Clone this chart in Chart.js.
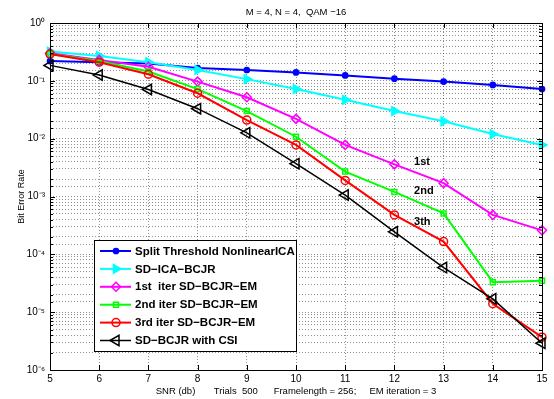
<!DOCTYPE html>
<html>
<head>
<meta charset="utf-8">
<script src="https://cdn.jsdelivr.net/npm/chart.js@4.4.1/dist/chart.umd.min.js"></script>
<style>
  html, body { margin: 0; padding: 0; background: #fff; }
  #wrap { width: 554px; height: 399px; }
</style>
</head>
<body>
<div id="wrap"><canvas id="ber" width="554" height="399"></canvas></div>
<script>
// SNR points (dB)
const snr = [5, 6, 7, 8, 9, 10, 11, 12, 13, 14, 15];

// bit error rate per curve
const splitThreshold = [0.22, 0.21, 0.20, 0.166, 0.154, 0.14, 0.124, 0.109, 0.097, 0.085, 0.072];
const sdIcaBcjr      = [0.32, 0.27, 0.21, 0.154, 0.107, 0.072, 0.047, 0.030, 0.020, 0.012, 0.0078];
const iter1          = [0.30, 0.23, 0.175, 0.097, 0.052, 0.022, 0.0078, 0.0036, 0.0017, 0.00048, 0.00026];
const iter2          = [0.29, 0.22, 0.145, 0.072, 0.030, 0.0108, 0.0027, 0.0012, 0.00051, 0.000033, 0.000035];
const iter3          = [0.29, 0.21, 0.13, 0.061, 0.021, 0.0078, 0.0019, 0.00048, 0.000166, 0.000014, 0.0000037];
const withCsi        = [0.185, 0.126, 0.071, 0.033, 0.0126, 0.0037, 0.00106, 0.000245, 0.000059, 0.000017, 0.0000029];

const seriesNames = [
  'Split Threshold NonlinearICA',
  'SD\u2212ICA\u2212BCJR',
  '1st  iter SD\u2212BCJR\u2212EM',
  '2nd iter SD\u2212BCJR\u2212EM',
  '3rd iter SD\u2212BCJR\u2212EM',
  'SD\u2212BCJR with CSI'
];

// text labels next to the EM curves: [x, y, text]
const curveNotes = [
  [12.4, 0.0040, '1st'],
  [12.4, 0.00124, '2nd'],
  [12.4, 0.00036, '3th']
];

const titleText = 'M = 4, N = 4,  QAM \u221216';
const xLabel = 'SNR (db)       Trials  500      Framelength = 256;     EM iteration = 3';

const FONT = 'Liberation Sans, Arial, Helvetica, sans-serif';

const sup = { '-': '\u207B', '0': '\u2070', '1': '\u00B9', '2': '\u00B2', '3': '\u00B3',
  '4': '\u2074', '5': '\u2075', '6': '\u2076', '7': '\u2077', '8': '\u2078', '9': '\u2079' };
function powLabel(e) {
  return '10' + String(e).split('').map(c => sup[c]).join('');
}

function series(label, values, color, style, extra) {
  return Object.assign({
    label,
    data: snr.map((x, i) => ({ x, y: values[i] })),
    borderColor: color,
    backgroundColor: 'rgba(0,0,0,0)',
    pointBorderColor: color,
    pointBackgroundColor: 'rgba(0,0,0,0)',
    pointStyle: style,
    pointRadius: 4,
    pointBorderWidth: 1.5,
    borderWidth: 2,
    tension: 0,
    clip: false
  }, extra || {});
}

const datasets = [
  series(seriesNames[0], splitThreshold, '#0000ff', 'circle', { pointRadius: 2.6, pointBackgroundColor: '#0000ff' }),
  series(seriesNames[1], sdIcaBcjr, '#00ffff', 'triangle', { pointRadius: 5, pointRotation: 90, pointBackgroundColor: '#00ffff' }),
  series(seriesNames[2], iter1, '#ff00ff', 'rectRot', { pointRadius: 4.5 }),
  series(seriesNames[3], iter2, '#00ff00', 'rect', { pointRadius: 3.5 }),
  series(seriesNames[4], iter3, '#ff0000', 'circle', { pointRadius: 4 }),
  series(seriesNames[5], withCsi, '#000000', 'triangle', { pointRadius: 6, pointRotation: -90, borderWidth: 1.5 })
];
datasets.forEach((d, i) => { d.order = datasets.length - i; });

const matlabFrame = {
  id: 'matlabFrame',
  afterDatasetsDraw(chart) {
    const { ctx, chartArea: a, scales } = chart;
    ctx.save();
    ctx.strokeStyle = '#000';
    ctx.lineWidth = 1;
    ctx.beginPath();
    // inward tick marks
    scales.x.ticks.forEach(t => {
      const px = Math.round(scales.x.getPixelForValue(t.value)) + 0.5;
      ctx.moveTo(px, a.bottom); ctx.lineTo(px, a.bottom - 5);
      ctx.moveTo(px, a.top); ctx.lineTo(px, a.top + 5);
    });
    scales.y.ticks.forEach(t => {
      const py = Math.round(scales.y.getPixelForValue(t.value)) + 0.5;
      const len = t.major ? 5 : 3;
      ctx.moveTo(a.left, py); ctx.lineTo(a.left + len, py);
      ctx.moveTo(a.right, py); ctx.lineTo(a.right - len, py);
    });
    ctx.stroke();
    ctx.strokeRect(Math.round(a.left) + 0.5, Math.round(a.top) + 0.5,
      Math.round(a.right - a.left), Math.round(a.bottom - a.top));

    // title
    ctx.fillStyle = '#000';
    ctx.font = '9.5px ' + FONT;
    ctx.textAlign = 'center';
    ctx.textBaseline = 'middle';
    ctx.fillText(titleText, (a.left + a.right) / 2, 12);

    // notes on the curves
    ctx.font = 'bold 11px ' + FONT;
    ctx.textAlign = 'left';
    curveNotes.forEach(([x, y, txt]) => {
      ctx.fillText(txt, scales.x.getPixelForValue(x), scales.y.getPixelForValue(y));
    });

    // legend box
    const bx = a.left + 44, by = a.top + 217, bw = 202, bh = 111;
    ctx.fillStyle = '#fff';
    ctx.fillRect(bx, by, bw, bh);
    ctx.strokeRect(Math.round(bx) + 0.5, Math.round(by) + 0.5, bw, bh);
    ctx.font = 'bold 11.5px ' + FONT;
    chart.data.datasets.forEach((d, i) => {
      const y = by + 11 + i * 17.9;
      ctx.strokeStyle = d.borderColor;
      ctx.lineWidth = d.borderWidth;
      ctx.beginPath();
      ctx.moveTo(bx + 6, y); ctx.lineTo(bx + 37, y);
      ctx.stroke();
      ctx.fillStyle = d.pointBackgroundColor;
      ctx.strokeStyle = d.pointBorderColor;
      ctx.lineWidth = d.pointBorderWidth;
      Chart.helpers.drawPoint(ctx, {
        pointStyle: d.pointStyle,
        radius: d.pointRadius,
        rotation: d.pointRotation || 0,
        borderWidth: d.pointBorderWidth
      }, bx + 22, y);
      ctx.fillStyle = '#000';
      ctx.fillText(d.label, bx + 41, y + 0.5);
    });
    ctx.restore();
  }
};

const dotted = {
  color: 'rgba(0,0,0,0.55)',
  lineWidth: 0.8,
  drawTicks: false
};

new Chart(document.getElementById('ber'), {
  type: 'line',
  data: { datasets },
  options: {
    responsive: false,
    animation: false,
    layout: { padding: { top: 23, right: 12, left: 0, bottom: 0 } },
    plugins: { legend: { display: false }, tooltip: { enabled: false } },
    scales: {
      x: {
        type: 'linear',
        min: 5,
        max: 15,
        afterFit(s) { s.height = 29; },
        grid: dotted,
        border: { display: false, dash: [1, 2] },
        ticks: { stepSize: 1, padding: 3, color: '#000', font: { family: FONT, size: 10 } },
        title: { display: true, text: xLabel, color: '#000', padding: { top: 0, bottom: 2 }, font: { family: FONT, size: 9.5 } }
      },
      y: {
        type: 'logarithmic',
        min: 1e-6,
        max: 1,
        afterFit(s) { s.width = 50; },
        grid: dotted,
        border: { display: false, dash: [1, 2] },
        ticks: {
          autoSkip: false,
          padding: 5,
          color: '#000',
          font: { family: FONT, size: 10 },
          callback(v) {
            const e = Math.log10(v);
            return Math.abs(e - Math.round(e)) < 1e-6 ? powLabel(Math.round(e)) : '';
          }
        },
        title: { display: true, text: 'Bit Error Rate', color: '#000', padding: { top: 16, bottom: 0 }, font: { family: FONT, size: 9 } }
      }
    }
  },
  plugins: [matlabFrame]
});
</script>
</body>
</html>
